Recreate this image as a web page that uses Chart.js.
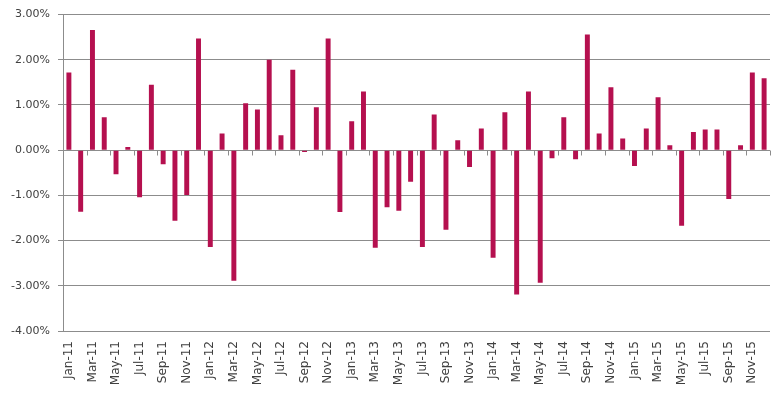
<!DOCTYPE html>
<html>
<head>
<meta charset="utf-8">
<script src="https://cdn.jsdelivr.net/npm/chart.js@4/dist/chart.umd.min.js"></script>
<style>
html,body{margin:0;padding:0;background:#fff;}
#wrap{width:781px;height:393px;position:relative;}
</style>
</head>
<body>
<div id="wrap"><canvas id="c" width="781" height="393"></canvas></div>
<script>
const months = ['Jan','Feb','Mar','Apr','May','Jun','Jul','Aug','Sep','Oct','Nov','Dec'];
const years = ['11','12','13','14','15'];
const categories = [];
years.forEach(y => months.forEach(m => categories.push(m + '-' + y)));

const returns2011 = [1.72, -1.36, 2.66, 0.73, -0.53, 0.07, -1.04, 1.45, -0.31, -1.56, -0.99, 2.47];
const returns2012 = [-2.14, 0.37, -2.89, 1.04, 0.90, 2.00, 0.33, 1.78, -0.04, 0.95, 2.47, -1.37];
const returns2013 = [0.64, 1.30, -2.16, -1.26, -1.34, -0.70, -2.14, 0.79, -1.76, 0.22, -0.37, 0.48];
const returns2014 = [-2.38, 0.84, -3.19, 1.30, -2.93, -0.18, 0.73, -0.20, 2.56, 0.37, 1.39, 0.26];
const returns2015 = [-0.35, 0.48, 1.17, 0.11, -1.67, 0.40, 0.46, 0.46, -1.08, 0.11, 1.72, 1.59];
const values = [].concat(returns2011, returns2012, returns2013, returns2014, returns2015);

const yTicks = [3, 2, 1, 0, -1, -2, -3, -4];

const gridColor = '#8c8c8c';
const textColor = '#404040';

const zeroTicks = {
  id: 'zeroTicks',
  afterDraw(chart) {
    const xs = chart.scales.x, ys = chart.scales.y;
    const y0 = Math.round(ys.getPixelForValue(0)) + 0.5;
    const n = categories.length;
    const step = xs.width / n;
    const ctx = chart.ctx;
    ctx.save();
    ctx.strokeStyle = gridColor;
    ctx.lineWidth = 1;
    ctx.beginPath();
    for (let i = 2; i <= n; i += 2) {
      const x = Math.round(xs.left + i * step) + 0.5;
      ctx.moveTo(x, y0);
      ctx.lineTo(x, y0 + 5);
    }
    ctx.stroke();
    ctx.restore();
  }
};

new Chart(document.getElementById('c'), {
  type: 'bar',
  data: {
    labels: categories,
    datasets: [{
      data: values,
      backgroundColor: '#b5104f',
      borderWidth: 0,
      categoryPercentage: 1,
      barPercentage: 0.42
    }]
  },
  options: {
    responsive: false,
    animation: false,
    layout: { padding: { top: 13, right: 11, left: 0, bottom: 0 } },
    plugins: { legend: { display: false }, tooltip: { enabled: false } },
    scales: {
      x: {
        grid: { display: false, drawTicks: false },
        border: { display: false },
        ticks: {
          autoSkip: false,
          minRotation: 90,
          maxRotation: 90,
          padding: 10,
          color: textColor,
          font: { family: 'DejaVu Sans', size: 12 },
          callback: function(v, i) { return i % 2 === 0 ? categories[i] : ''; }
        },
        afterFit(s) { s.height = 62; s.paddingRight = 0; s.paddingLeft = 0; }
      },
      y: {
        min: -4,
        max: 3,
        afterBuildTicks(s) { s.ticks = yTicks.map(v => ({ value: v })); },
        grid: { color: gridColor, lineWidth: 1, tickLength: 5, drawTicks: true },
        border: { display: true, color: gridColor, width: 1 },
        ticks: {
          padding: 8,
          color: textColor,
          font: { family: 'DejaVu Sans', size: 11 },
          callback: v => v.toFixed(2) + '%'
        },
        afterFit(s) { s.width = 63; }
      }
    }
  },
  plugins: [zeroTicks]
});
</script>
</body>
</html>
